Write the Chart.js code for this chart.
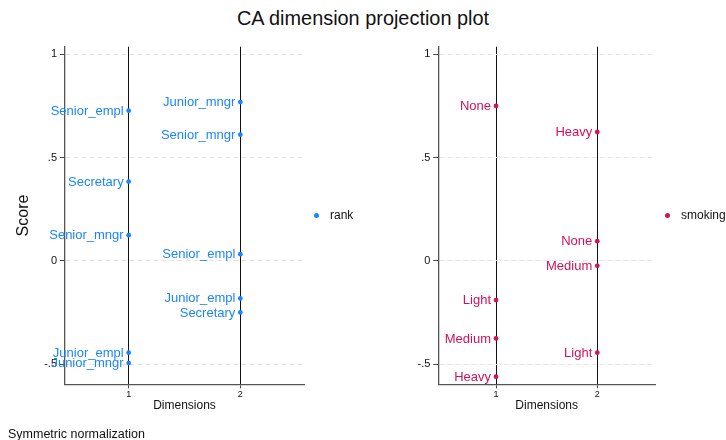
<!DOCTYPE html>
<html>
<head>
<meta charset="utf-8">
<title>CA dimension projection plot</title>
<script src="https://cdn.jsdelivr.net/npm/chart.js@4.4.1/dist/chart.umd.min.js"></script>
<style>
    body { margin: 0; background: #fff; }
    #wrap { position: relative; width: 726px; height: 440px; background: #fff; overflow: hidden;
            font-family: "Liberation Sans", Arial, sans-serif; color: #111; }
    #title { position: absolute; left: 0; top: 6px; width: 726px; text-align: center;
             font-size: 19.9px; line-height: 24px; }
    #note { position: absolute; left: 8px; top: 427px; font-size: 12.5px; line-height: 14px; }
    canvas { position: absolute; top: 0; }
    #rankChart { left: 0; }
    #smokingChart { left: 363px; }
</style>
</head>
<body>
<div id="wrap">
    <div id="title">CA dimension projection plot</div>
    <canvas id="rankChart" width="363" height="440"></canvas>
    <canvas id="smokingChart" width="363" height="440"></canvas>
    <div id="note">Symmetric normalization</div>
</div>
<script>
// Dimensions on the x axis
const dims = [1, 2];

// Row variable: rank
const rankCategories = ['Senior_mngr', 'Junior_mngr', 'Senior_empl', 'Junior_empl', 'Secretary'];
const rankDim1 = [0.124, -0.495, 0.727, -0.445, 0.384];
const rankDim2 = [0.611, 0.769, 0.032, -0.182, -0.250];

// Column variable: smoking
const smokingCategories = ['None', 'Light', 'Medium', 'Heavy'];
const smokingDim1 = [0.750, -0.190, -0.376, -0.561];
const smokingDim2 = [0.095, -0.445, -0.024, 0.624];

// Y axis ticks
const yTicks = [-0.5, 0, 0.5, 1];
const yTickLabels = ['-.5', '0', '.5', '1'];

const FONT = '"Liberation Sans", Arial, sans-serif';
Chart.defaults.font.family = FONT;
Chart.defaults.color = '#111';

// Labels to the left of every point
const pointLabels = {
    id: 'pointLabels',
    afterDatasetsDraw(chart) {
        const ctx = chart.ctx;
        chart.data.datasets.forEach((ds, di) => {
            const meta = chart.getDatasetMeta(di);
            ctx.save();
            ctx.font = '13px ' + FONT;
            ctx.fillStyle = ds.backgroundColor;
            ctx.textAlign = 'right';
            ctx.textBaseline = 'middle';
            meta.data.forEach((el, i) => {
                ctx.fillText(ds.data[i].label, el.x - 5, el.y + 0.5);
            });
            ctx.restore();
        });
    }
};

// Key on the right side of each panel
const sideKey = {
    id: 'sideKey',
    afterDraw(chart) {
        const ctx = chart.ctx;
        const area = chart.chartArea;
        const ds = chart.data.datasets[0];
        const y = (area.top + area.bottom) / 2;
        ctx.save();
        ctx.fillStyle = ds.backgroundColor;
        ctx.beginPath();
        ctx.arc(area.right + 12.5, y, 2.5, 0, Math.PI * 2);
        ctx.fill();
        ctx.font = '12px ' + FONT;
        ctx.fillStyle = '#111';
        ctx.textAlign = 'left';
        ctx.textBaseline = 'middle';
        ctx.fillText(ds.label, area.right + 26, y + 0.5);
        ctx.restore();
    }
};

function buildPoints(categories, d1, d2) {
    const pts = [];
    categories.forEach((c, i) => pts.push({ x: dims[0], y: d1[i], label: c }));
    categories.forEach((c, i) => pts.push({ x: dims[1], y: d2[i], label: c }));
    return pts;
}

function makeChart(id, name, color, points, axisWidth, padRight, showScore) {
    const ctx = document.getElementById(id).getContext('2d');
    return new Chart(ctx, {
        type: 'scatter',
        data: {
            datasets: [{
                label: name,
                data: points,
                backgroundColor: color,
                borderColor: color,
                pointRadius: 2.4,
                pointBorderWidth: 0
            }]
        },
        options: {
            responsive: false,
            animation: false,
            events: [],
            layout: { padding: { top: 46.7, right: padRight, bottom: 20, left: 0 } },
            plugins: { legend: { display: false }, tooltip: { enabled: false } },
            scales: {
                x: {
                    type: 'linear',
                    min: 0.43,
                    max: 2.57,
                    afterBuildTicks: s => { s.ticks = dims.map(v => ({ value: v })); },
                    afterFit: s => { s.height = 35.7; },
                    ticks: { font: { size: 9 }, padding: 1, color: '#111', callback: v => String(v) },
                    grid: { color: '#111', lineWidth: 1, tickLength: 4, tickColor: '#444' },
                    border: { color: '#555', width: 1.3 },
                    title: { display: true, text: 'Dimensions', font: { size: 12 }, color: '#111',
                             padding: { top: 0, bottom: 7 } }
                },
                y: {
                    type: 'linear',
                    min: -0.598,
                    max: 1.037,
                    afterBuildTicks: s => { s.ticks = yTicks.map(v => ({ value: v })); },
                    afterFit: s => { s.width = axisWidth; },
                    ticks: { font: { size: 11 }, padding: 3, color: '#111',
                             callback: v => yTickLabels[yTicks.indexOf(v)] },
                    grid: { color: '#e4e4e4', lineWidth: 1, tickLength: 5, tickColor: '#444',
                            tickBorderDash: [], z: -1 },
                    border: { color: '#555', width: 1.3, dash: [5, 3] },
                    title: { display: showScore, text: 'Score', font: { size: 16 }, color: '#111',
                             padding: { top: 14, bottom: 0 } }
                }
            }
        },
        plugins: [pointLabels, sideKey]
    });
}

makeChart('rankChart', 'rank', '#1a85ff',
    buildPoints(rankCategories, rankDim1, rankDim2), 65, 59, true);
makeChart('smokingChart', 'smoking', '#d41159',
    buildPoints(smokingCategories, smokingDim1, smokingDim2), 75.3, 71, false);
</script>
</body>
</html>
